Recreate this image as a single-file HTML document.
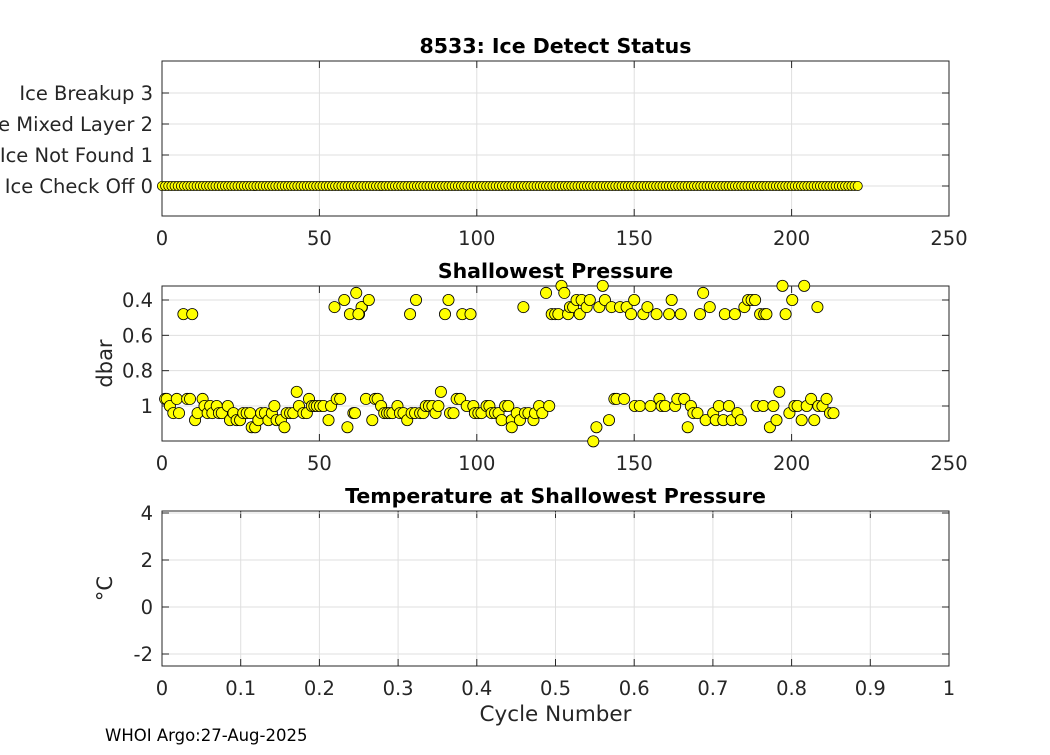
<!DOCTYPE html>
<html><head><meta charset="utf-8"><style>
body{margin:0;background:#fff;}
svg text{font-family:"DejaVu Sans","Liberation Sans",sans-serif;fill:#262626;}
</style></head><body>
<svg id="c" width="1050" height="750" viewBox="0 0 1050 750"></svg>
<script>
const iceCycles = []; for (let i = 0; i <= 221; i++) iceCycles.push(i);
const iceValues = iceCycles.map(() => 0);
const iceTickValues = [0, 1, 2, 3];
const iceTickLabels = ["Ice Check Off 0", "Ice Not Found 1", "Ice Mixed Layer 2", "Ice Breakup 3"];
const cycleTicks = [0, 50, 100, 150, 200, 250];
const presCycles = [1,1.5,2.5,3.6,4.7,5.4,8,8.9,10.5,11.3,12.9,13.5,14.5,15.3,16,17.4,18.1,19,20.9,21.6,22.7,23.7,24.8,25.8,26.9,28,28.5,29.6,30.6,31.5,32.7,33.8,34.9,35.7,36.4,37.8,38.9,39.6,40.7,41.7,42.8,43.5,44.9,46,46.7,47.6,48.4,49.2,50.2,51.3,52.9,53.7,55.5,56.6,58.9,60.8,
6.8,9.6,54.8,57.9,59.7,61.7,62.6,63.5,63.4,65.7,62.4,78.8,80.7,89.9,91,95.4,98,114.8,122,123.8,124.9,125.9,
61.3,64.8,66.8,67.7,68.5,69.6,70.6,71.5,72.3,73.2,74.8,75.6,76.7,77.9,79.3,80.4,82,83,83.8,84.8,85.9,86.9,87.8,88.6,91.5,92.6,93.6,94.7,96.8,98.9,99.4,100.5,101.5,103.1,104,104.7,105.8,106.9,107.9,109,110,111.1,111.1,112.7,113.7,115.3,116.4,118,118.5,119.8,120.8,123,
126.9,127.8,129,129.6,130.6,131.7,132.7,133.3,134.9,135.9,138.9,140,140.7,142.8,145.5,147.6,149,150,152.9,154.2,157.1,161.1,161.9,164.8,170.9,171.9,174,178.8,182,185,186.2,187.3,188.4,190,191.3,192,197.1,198.1,200.2,204,208.2,
137,138,142,143.7,144.4,146.8,150.2,151.8,155.2,158,158.7,159.8,163,163.7,165.9,167,168,168.8,170.1,172.7,175.1,175.9,176.9,178.3,180.1,181,182.8,183.9,188.9,191,193.1,194.2,195.2,196.1,199.3,200.9,201.9,203.2,204.8,206.2,207.2,208.5,209.8,211.1,212.2,213.3];
const presValues = [0.96,0.96,1.0,1.04,0.96,1.04,0.96,0.96,1.08,1.04,0.96,1.0,1.04,1.0,1.04,1.0,1.04,1.04,1.0,1.08,1.04,1.08,1.08,1.04,1.04,1.04,1.12,1.12,1.08,1.04,1.04,1.08,1.04,1.0,1.08,1.08,1.12,1.04,1.04,1.04,0.92,1.0,1.04,1.04,0.96,1.0,1.0,1.0,1.0,1.0,1.08,1.0,0.96,0.96,1.12,1.04,
0.48,0.48,0.44,0.40,0.48,0.36,0.48,0.44,0.44,0.40,0.48,0.48,0.40,0.48,0.40,0.48,0.48,0.44,0.36,0.48,0.48,0.48,
1.04,0.96,1.08,0.96,0.96,1.0,1.04,1.04,1.04,1.04,1.0,1.04,1.04,1.08,1.04,1.04,1.04,1.04,1.0,1.0,1.0,1.04,1.0,0.92,1.04,1.04,0.96,0.96,1.0,1.0,1.04,1.04,1.04,1.0,1.0,1.04,1.04,1.04,1.08,1.0,1.0,1.08,1.12,1.04,1.08,1.04,1.04,1.08,1.04,1.0,1.04,1.0,
0.32,0.36,0.48,0.44,0.44,0.40,0.48,0.40,0.44,0.40,0.44,0.32,0.40,0.44,0.44,0.44,0.48,0.40,0.48,0.44,0.48,0.48,0.40,0.48,0.48,0.36,0.44,0.48,0.48,0.44,0.40,0.40,0.40,0.48,0.48,0.48,0.32,0.48,0.40,0.32,0.44,
1.2,1.12,1.08,0.96,0.96,0.96,1.0,1.0,1.0,0.96,1.0,1.0,1.0,0.96,0.96,1.12,1.0,1.04,1.04,1.08,1.04,1.08,1.0,1.08,1.0,1.08,1.04,1.08,1.0,1.0,1.12,1.0,1.08,0.92,1.04,1.0,1.0,1.08,1.0,0.96,1.08,1.0,1.0,0.96,1.04,1.04];
const presTicks = [0.4, 0.6, 0.8, 1];
const presTickLabels = ["0.4", "0.6", "0.8", "1"];
const tempTicks = [-2, 0, 2, 4];
const tempXTicks = [0,0.1,0.2,0.3,0.4,0.5,0.6,0.7,0.8,0.9,1];
const tempXLabels = ["0","0.1","0.2","0.3","0.4","0.5","0.6","0.7","0.8","0.9","1"];

const svg = document.getElementById('c');
const NS = 'http://www.w3.org/2000/svg';
function mk(tag, attrs, parent, txt) {
  const e = document.createElementNS(NS, tag);
  for (const k in attrs) e.setAttribute(k, attrs[k]);
  if (txt !== undefined) e.textContent = txt;
  (parent || svg).appendChild(e);
  return e;
}
const L = 162, R = 949;
function lin(d0, d1, r0, r1) { return v => r0 + (v - d0) / (d1 - d0) * (r1 - r0); }

function axesBox(name, top, bot, xs, xt, xl, ys, yt, yl, title, ylabel, xlabel) {
  const g = mk('g', {});
  
  
  mk('rect', {x: L, y: top, width: R - L, height: bot - top, fill: '#fff'}, g);
  xt.forEach((v, i) => {
    const x = xs(v);
    mk('line', {x1: x, x2: x, y1: top, y2: bot, stroke: '#dfdfdf', 'stroke-width': 1}, g);
    mk('line', {x1: x, x2: x, y1: bot, y2: bot - 7, stroke: '#262626'}, g);
    mk('line', {x1: x, x2: x, y1: top, y2: top + 7, stroke: '#262626'}, g);
    const t = mk('text', {x: x, y: bot + 29, 'text-anchor': 'middle', 'font-size': 19.5}, g, xl[i]);
    
    
  });
  yt.forEach((v, i) => {
    const y = ys(v);
    mk('line', {x1: L, x2: R, y1: y, y2: y, stroke: '#dfdfdf', 'stroke-width': 1}, g);
    mk('line', {x1: L, x2: L + 7, y1: y, y2: y, stroke: '#262626'}, g);
    mk('line', {x1: R, x2: R - 7, y1: y, y2: y, stroke: '#262626'}, g);
    const t = mk('text', {x: L - 9, y: y + 7, 'text-anchor': 'end', 'font-size': 19.5}, g, yl[i]);
    
    
  });
  mk('rect', {x: L, y: top, width: R - L, height: bot - top, fill: 'none', stroke: '#262626', 'stroke-width': 1}, g);
  const tt = mk('text', {x: (L + R) / 2, y: top - 8, 'text-anchor': 'middle', 'font-size': 20.5, 'font-weight': 'bold', style: 'fill:#000'}, g, title);
  
  
  if (ylabel) {
    const cy = (top + bot) / 2;
    const yl2 = mk('text', {x: 112, y: cy, 'text-anchor': 'middle', 'font-size': 21, transform: `rotate(-90 112 ${cy})`}, g, ylabel);
    
    
  }
  if (xlabel) {
    const xl2 = mk('text', {x: (L + R) / 2, y: bot + 55, 'text-anchor': 'middle', 'font-size': 21.5}, g, xlabel);
    
    
  }
  return g;
}

// Plot 1
const x1 = lin(0, 250, L, R), y1 = lin(0, 1, 186, 155);
axesBox('ice-status-axes', 61, 216, x1, cycleTicks, cycleTicks.map(String), y1, iceTickValues, iceTickLabels, '8533: Ice Detect Status');
iceCycles.forEach((c, i) => {
  const p = mk('circle', {cx: x1(c), cy: y1(iceValues[i]), r: 4.6, fill: '#ffff00', stroke: '#000', 'stroke-width': 0.8});
  
  
});

// Plot 2
const y2 = lin(0.4, 1, 300, 406);
axesBox('shallowest-pressure-axes', 286, 441, x1, cycleTicks, cycleTicks.map(String), y2, presTicks, presTickLabels, 'Shallowest Pressure', 'dbar');
presCycles.forEach((c, i) => {
  const p = mk('circle', {cx: x1(c), cy: y2(presValues[i]), r: 5.6, fill: '#ffff00', stroke: '#000', 'stroke-width': 0.8});
  
  
});

// Plot 3
const x3 = lin(0, 1, L, R), y3 = lin(0, 2, 607, 560);
axesBox('temperature-axes', 511, 666, x3, tempXTicks, tempXLabels, y3, tempTicks, tempTicks.map(String), 'Temperature at Shallowest Pressure', '°C', 'Cycle Number');

const f = mk('text', {x: 105, y: 741, 'font-size': 16.5, style: 'fill:#000'}, svg, 'WHOI Argo:27-Aug-2025');


</script>
</body></html>
